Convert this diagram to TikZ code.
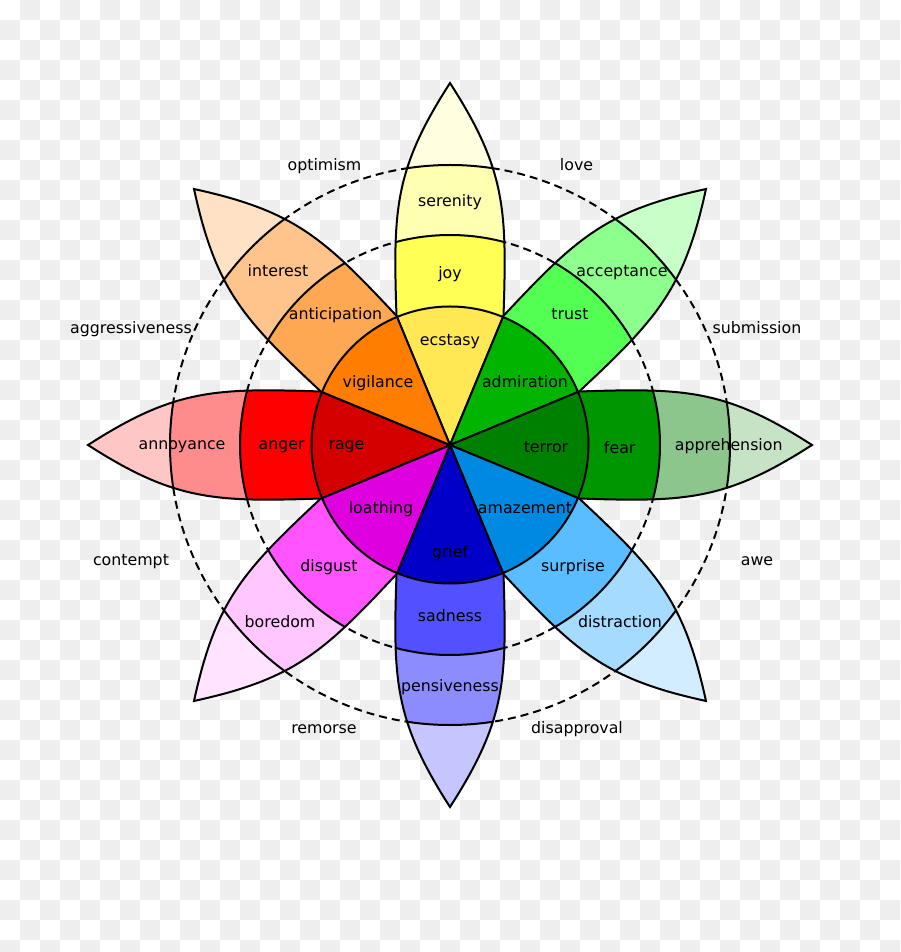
\documentclass[tikz,border=0pt]{standalone}
\usepackage{fontspec}
\setmainfont{DejaVu Sans}

\definecolor{checker}{HTML}{EEEEEE}
\definecolor{ecstasyC}{HTML}{FFE854}
\definecolor{joyC}{HTML}{FFFF54}
\definecolor{serenityC}{HTML}{FFFFB1}
\definecolor{joyT}{HTML}{FFFFE0}
\definecolor{admirationC}{HTML}{00B400}
\definecolor{trustC}{HTML}{54FF54}
\definecolor{acceptanceC}{HTML}{8CFF8C}
\definecolor{trustT}{HTML}{C8FFC8}
\definecolor{terrorC}{HTML}{008000}
\definecolor{fearC}{HTML}{009600}
\definecolor{apprehensionC}{HTML}{8CC68C}
\definecolor{fearT}{HTML}{C6E3C6}
\definecolor{amazementC}{HTML}{0089E0}
\definecolor{surpriseC}{HTML}{59BDFF}
\definecolor{distractionC}{HTML}{A5DBFF}
\definecolor{surpriseT}{HTML}{D2EDFF}
\definecolor{griefC}{HTML}{0000C8}
\definecolor{sadnessC}{HTML}{5151FF}
\definecolor{pensivenessC}{HTML}{8C8CFF}
\definecolor{sadnessT}{HTML}{C6C6FF}
\definecolor{loathingC}{HTML}{DE00DE}
\definecolor{disgustC}{HTML}{FF54FF}
\definecolor{boredomC}{HTML}{FFC6FF}
\definecolor{disgustT}{HTML}{FFE3FF}
\definecolor{rageC}{HTML}{D40000}
\definecolor{angerC}{HTML}{FF0000}
\definecolor{annoyanceC}{HTML}{FF8C8C}
\definecolor{angerT}{HTML}{FFC6C6}
\definecolor{vigilanceC}{HTML}{FF7D00}
\definecolor{anticipationC}{HTML}{FFA854}
\definecolor{interestC}{HTML}{FFC48C}
\definecolor{anticipationT}{HTML}{FFE2C6}

\tikzset{
  petal line/.style={line width=2pt},
  ring/.style={line width=2pt, dash pattern=on 8pt off 5pt},
  lbl/.style={anchor=base, inner sep=0pt, font=\fontsize{15.8}{19}\selectfont}
}
\def\petalshape{(0,0) -- (-53.5,129) .. controls (-57,235) and (-56,275) .. (0,362)
  .. controls (56,275) and (57,235) .. (53.5,129) -- cycle}

\begin{document}
\begin{tikzpicture}[x=1pt, y=1pt]
    \useasboundingbox (-450,-507) rectangle (450,445);
    \fill[white] (-450,-507) rectangle (450,445);
    \begin{scope}
    \clip (-450,-507) rectangle (450,445);
    \foreach \col in {0,...,44}{
      \foreach \row in {0,...,47}{
        \pgfmathtruncatemacro\parity{mod(\col+\row,2)}
        \ifnum\parity=1
          \fill[checker] (\col*20-450,445-\row*20) rectangle ++(20,-20);
        \fi
      }
    }
    \end{scope}

    \draw[ring] (0,0) circle (210) (0,0) circle (280);

    \foreach \a/\ca/\cb/\cc/\cd in {0/ecstasyC/joyC/serenityC/joyT,
        -45/admirationC/trustC/acceptanceC/trustT,
        -90/terrorC/fearC/apprehensionC/fearT,
        -135/amazementC/surpriseC/distractionC/surpriseT,
        180/griefC/sadnessC/pensivenessC/sadnessT,
        135/loathingC/disgustC/boredomC/disgustT,
        90/rageC/angerC/annoyanceC/angerT,
        45/vigilanceC/anticipationC/interestC/anticipationT}{
      \begin{scope}[rotate=\a]
        \begin{scope}
          \clip \petalshape;
          \fill[\cd] (0,0) circle (362);
          \fill[\cc] (0,0) circle (280);
          \fill[\cb] (0,0) circle (210);
          \fill[\ca] (0,0) circle (138.5);
          \draw[petal line] (0,0) circle (138.5) (0,0) circle (210) (0,0) circle (280);
        \end{scope}
        \draw[petal line] \petalshape;
      \end{scope}
    }

    \begin{scope}[shift={(-450,445)}, yscale=-1, every node/.style={lbl}]
    \node (optimism) at (324.5,171) {optimism};
    \node (love) at (576.5,171) {love};
    \node (aggressiveness) at (131,333.3) {aggressiveness};
    \node (submission) at (757,333.3) {submission};
    \node (contempt) at (131,566) {contempt};
    \node (awe) at (757,566) {awe};
    \node (remorse) at (324,733) {remorse};
    \node (disapproval) at (577,733) {disapproval};
    \node (serenity) at (450,206.5) {serenity};
    \node (joy) at (450,279) {joy};
    \node (ecstasy) at (450,346) {ecstasy};
    \node (interest) at (278,276.7) {interest};
    \node (anticipation) at (335.5,319.3) {anticipation};
    \node (vigilance) at (378,387.7) {vigilance};
    \node (acceptance) at (622,276.7) {acceptance};
    \node (trust) at (570,319.3) {trust};
    \node (admiration) at (525,387.7) {admiration};
    \node (annoyance) at (182,449.3) {annoyance};
    \node (anger) at (281.7,449.3) {anger};
    \node (rage) at (346.5,449.3) {rage};
    \node (terror) at (546,453) {terror};
    \node (fear) at (619.7,453.3) {fear};
    \node (apprehension) at (728.7,451) {apprehension};
    \node (loathing) at (381,513.3) {loathing};
    \node (amazement) at (525,513.3) {amazement};
    \node (disgust) at (329,571.7) {disgust};
    \node (surprise) at (573,571.7) {surprise};
    \node (boredom) at (280,627.3) {boredom};
    \node (distraction) at (620,627.3) {distraction};
    \node (grief) at (450,558) {grief};
    \node (sadness) at (450,621) {sadness};
    \node (pensiveness) at (450,691.7) {pensiveness};
    \end{scope}
\end{tikzpicture}
\end{document}
